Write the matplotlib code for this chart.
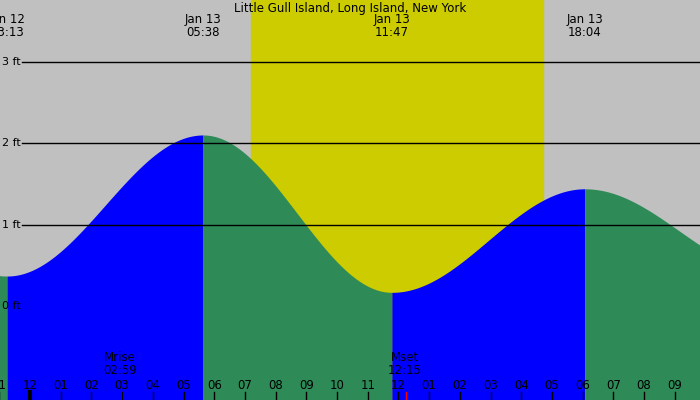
import numpy as np
import matplotlib
matplotlib.use("Agg")
import matplotlib.pyplot as plt

# tide extremes: hours from midnight Jan 13, height in ft
ext_t = [-7.0, -0.75, 5.633, 11.783, 18.067, 24.25]
ext_h = [1.90, 0.37, 2.10, 0.17, 1.44, 0.40]
top_t = [-0.75, 5.633, 11.783, 18.067]
top_labels = ["Jan 12\n23:13", "Jan 13\n05:38", "Jan 13\n11:47", "Jan 13\n18:04"]
sun_rise, sun_set = 7.2, 16.71
moon_t = [2.983, 12.25]
moon_lbl = ["Mrise\n02:59", "Mset\n12:15"]
ft_levels = [1, 2, 3]

XMIN, XMAX = -0.977, 21.82
YMIN, YMAX = -1.15, 3.755

fig = plt.figure(figsize=(7, 4), dpi=100)
ax = fig.add_axes([0, 0, 1, 1])
ax.set_xlim(XMIN, XMAX)
ax.set_ylim(YMIN, YMAX)
ax.axis("off")
fig.patch.set_facecolor("#c0c0c0")
ax.axvspan(sun_rise, sun_set, color="#cccc00", zorder=0)

for i in range(len(ext_t) - 1):
    t0, t1, h0, h1 = ext_t[i], ext_t[i + 1], ext_h[i], ext_h[i + 1]
    t = np.linspace(t0, t1, 200)
    h = h0 + (h1 - h0) * (1 - np.cos(np.pi * (t - t0) / (t1 - t0))) / 2
    col = "#0000ff" if h1 > h0 else "#2e8b57"
    ax.fill_between(t, YMIN, h, color=col, lw=0, zorder=2)

for lv in ft_levels:
    ax.plot([-0.25, XMAX], [lv, lv], color="black", lw=1, zorder=3)
    ax.text(-0.9, lv, f"{lv} ft", fontsize=8, va="center", ha="left", zorder=4)
ax.text(-0.9, 0, "0 ft", fontsize=8, va="center", ha="left", zorder=4)

for t, lb in zip(top_t, top_labels):
    ax.text(t, 3.44, lb, fontsize=8.5, ha="center", va="center", linespacing=1.0)
ax.text((XMIN + XMAX) / 2, 3.655, "Little Gull Island, Long Island, New York",
        fontsize=8.5, ha="center", va="center")

for t, lb in zip(moon_t, moon_lbl):
    ax.text(t - 0.05, -0.71, lb, fontsize=8.5, ha="center", va="center", linespacing=1.0)
    ax.plot([t, t], [YMIN, YMIN + 0.1], color="red", lw=1, zorder=4)

for hr in range(-1, 22):
    lab = f"{(hr % 12) or 12:02d}" if hr >= 0 else "11"
    ax.text(hr, -0.97, lab, fontsize=8.5, ha="center", va="center", zorder=4)
    ax.plot([hr, hr], [YMIN, YMIN + 0.1], color="black",
            lw=3 if hr == 0 else 1, zorder=4)

fig.savefig("out.png", dpi=100, facecolor=fig.get_facecolor())
